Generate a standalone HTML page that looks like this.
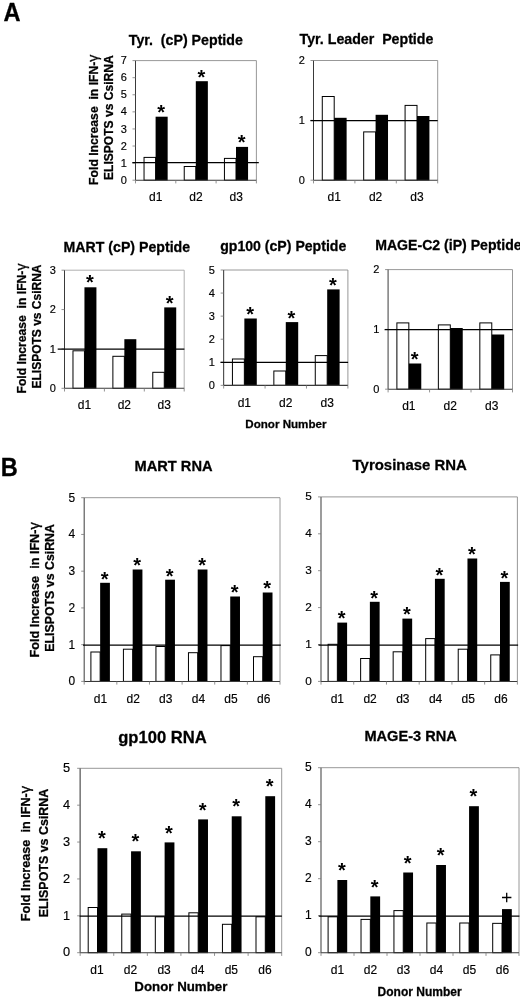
<!DOCTYPE html>
<html><head><meta charset="utf-8"><title>Figure</title>
<style>
html,body{margin:0;padding:0;background:#fff;}
body{width:520px;height:997px;overflow:hidden;font-family:"Liberation Sans", sans-serif;}
svg{display:block;will-change:transform;font-family:"Liberation Sans", sans-serif;fill:#000;}
svg text{font-family:"Liberation Sans", sans-serif;stroke:#000;stroke-width:.16px;}
svg text[font-weight=bold]{stroke-width:.27px;}
</style></head><body>
<svg width="520" height="997" viewBox="0 0 520 997">
<rect x="0" y="0" width="520" height="997" fill="#fff"/>
<path d="M135.50 60.60H256.40V180.20" fill="none" stroke="#8c8c8c" stroke-width="0.9"/>
<rect x="144.04" y="157.40" width="11.56" height="22.80" fill="#fff" stroke="#000" stroke-width="1"/>
<rect x="155.60" y="116.70" width="12.06" height="63.90" fill="#000"/>
<text x="161.13" y="119.20" text-anchor="middle" font-size="20" font-weight="bold" style="stroke-width:0">*</text>
<rect x="184.24" y="166.50" width="11.56" height="13.70" fill="#fff" stroke="#000" stroke-width="1"/>
<rect x="195.80" y="81.20" width="12.06" height="99.40" fill="#000"/>
<text x="201.33" y="83.70" text-anchor="middle" font-size="20" font-weight="bold" style="stroke-width:0">*</text>
<rect x="224.44" y="158.40" width="11.56" height="21.80" fill="#fff" stroke="#000" stroke-width="1"/>
<rect x="236.00" y="146.90" width="12.06" height="33.70" fill="#000"/>
<text x="241.53" y="149.40" text-anchor="middle" font-size="20" font-weight="bold" style="stroke-width:0">*</text>
<line x1="135.50" y1="60.60" x2="135.50" y2="180.20" stroke="#3a3a3a" stroke-width="1.05"/>
<line x1="135.50" y1="180.20" x2="256.40" y2="180.20" stroke="#3a3a3a" stroke-width="1.05"/>
<line x1="132.50" y1="180.20" x2="135.50" y2="180.20" stroke="#777" stroke-width="0.8"/>
<text x="126.80" y="183.80" text-anchor="end" font-size="11">0</text>
<line x1="132.50" y1="163.11" x2="135.50" y2="163.11" stroke="#777" stroke-width="0.8"/>
<text x="126.80" y="166.71" text-anchor="end" font-size="11">1</text>
<line x1="132.50" y1="146.03" x2="135.50" y2="146.03" stroke="#777" stroke-width="0.8"/>
<text x="126.80" y="149.63" text-anchor="end" font-size="11">2</text>
<line x1="132.50" y1="128.94" x2="135.50" y2="128.94" stroke="#777" stroke-width="0.8"/>
<text x="126.80" y="132.54" text-anchor="end" font-size="11">3</text>
<line x1="132.50" y1="111.86" x2="135.50" y2="111.86" stroke="#777" stroke-width="0.8"/>
<text x="126.80" y="115.46" text-anchor="end" font-size="11">4</text>
<line x1="132.50" y1="94.77" x2="135.50" y2="94.77" stroke="#777" stroke-width="0.8"/>
<text x="126.80" y="98.37" text-anchor="end" font-size="11">5</text>
<line x1="132.50" y1="77.69" x2="135.50" y2="77.69" stroke="#777" stroke-width="0.8"/>
<text x="126.80" y="81.29" text-anchor="end" font-size="11">6</text>
<line x1="132.50" y1="60.60" x2="135.50" y2="60.60" stroke="#777" stroke-width="0.8"/>
<text x="126.80" y="64.20" text-anchor="end" font-size="11">7</text>
<line x1="135.50" y1="180.20" x2="135.50" y2="183.40" stroke="#777" stroke-width="0.8"/>
<line x1="175.80" y1="180.20" x2="175.80" y2="183.40" stroke="#777" stroke-width="0.8"/>
<line x1="216.10" y1="180.20" x2="216.10" y2="183.40" stroke="#777" stroke-width="0.8"/>
<line x1="256.40" y1="180.20" x2="256.40" y2="183.40" stroke="#777" stroke-width="0.8"/>
<text x="155.65" y="201.20" text-anchor="middle" font-size="12">d1</text>
<text x="195.95" y="201.20" text-anchor="middle" font-size="12">d2</text>
<text x="236.25" y="201.20" text-anchor="middle" font-size="12">d3</text>
<line x1="132.30" y1="162.60" x2="258.80" y2="162.60" stroke="#000" stroke-width="1.25"/>
<text x="128.80" y="45.00" font-size="14.2" font-weight="bold">Tyr.  (cP) Peptide</text>
<path d="M313.50 60.50H437.70V180.20" fill="none" stroke="#8c8c8c" stroke-width="0.9"/>
<rect x="322.28" y="96.50" width="11.92" height="83.70" fill="#fff" stroke="#000" stroke-width="1"/>
<rect x="334.20" y="117.80" width="12.42" height="62.80" fill="#000"/>
<rect x="363.68" y="131.90" width="11.92" height="48.30" fill="#fff" stroke="#000" stroke-width="1"/>
<rect x="375.60" y="114.80" width="12.42" height="65.80" fill="#000"/>
<rect x="405.08" y="105.40" width="11.92" height="74.80" fill="#fff" stroke="#000" stroke-width="1"/>
<rect x="417.00" y="116.00" width="12.42" height="64.60" fill="#000"/>
<line x1="313.50" y1="60.50" x2="313.50" y2="180.20" stroke="#3a3a3a" stroke-width="1.05"/>
<line x1="313.50" y1="180.20" x2="437.70" y2="180.20" stroke="#3a3a3a" stroke-width="1.05"/>
<line x1="310.50" y1="180.20" x2="313.50" y2="180.20" stroke="#777" stroke-width="0.8"/>
<text x="304.80" y="183.80" text-anchor="end" font-size="11">0</text>
<line x1="310.50" y1="120.35" x2="313.50" y2="120.35" stroke="#777" stroke-width="0.8"/>
<text x="304.80" y="123.95" text-anchor="end" font-size="11">1</text>
<line x1="310.50" y1="60.50" x2="313.50" y2="60.50" stroke="#777" stroke-width="0.8"/>
<text x="304.80" y="64.10" text-anchor="end" font-size="11">2</text>
<line x1="313.50" y1="180.20" x2="313.50" y2="183.40" stroke="#777" stroke-width="0.8"/>
<line x1="354.90" y1="180.20" x2="354.90" y2="183.40" stroke="#777" stroke-width="0.8"/>
<line x1="396.30" y1="180.20" x2="396.30" y2="183.40" stroke="#777" stroke-width="0.8"/>
<line x1="437.70" y1="180.20" x2="437.70" y2="183.40" stroke="#777" stroke-width="0.8"/>
<text x="334.20" y="201.20" text-anchor="middle" font-size="12">d1</text>
<text x="375.60" y="201.20" text-anchor="middle" font-size="12">d2</text>
<text x="417.00" y="201.20" text-anchor="middle" font-size="12">d3</text>
<line x1="310.40" y1="120.50" x2="437.70" y2="120.50" stroke="#000" stroke-width="1.25"/>
<text x="299.60" y="43.80" font-size="14.2" font-weight="bold">Tyr. Leader  Peptide</text>
<path d="M64.50 270.20H184.20V388.30" fill="none" stroke="#a6a6a6" stroke-width="0.9"/>
<rect x="72.98" y="350.80" width="11.47" height="37.50" fill="#fff" stroke="#000" stroke-width="1"/>
<rect x="84.45" y="287.30" width="11.97" height="101.40" fill="#000"/>
<text x="89.94" y="289.40" text-anchor="middle" font-size="20" font-weight="bold" style="stroke-width:0">*</text>
<rect x="112.88" y="356.30" width="11.47" height="32.00" fill="#fff" stroke="#000" stroke-width="1"/>
<rect x="124.35" y="339.20" width="11.97" height="49.50" fill="#000"/>
<rect x="152.78" y="372.30" width="11.47" height="16.00" fill="#fff" stroke="#000" stroke-width="1"/>
<rect x="164.25" y="307.40" width="11.97" height="81.30" fill="#000"/>
<text x="169.74" y="309.50" text-anchor="middle" font-size="20" font-weight="bold" style="stroke-width:0">*</text>
<line x1="64.50" y1="270.20" x2="64.50" y2="388.30" stroke="#3a3a3a" stroke-width="1.05"/>
<line x1="64.50" y1="388.30" x2="184.20" y2="388.30" stroke="#3a3a3a" stroke-width="1.05"/>
<line x1="61.50" y1="388.30" x2="64.50" y2="388.30" stroke="#777" stroke-width="0.8"/>
<text x="55.80" y="391.90" text-anchor="end" font-size="11">0</text>
<line x1="61.50" y1="348.93" x2="64.50" y2="348.93" stroke="#777" stroke-width="0.8"/>
<text x="55.80" y="352.53" text-anchor="end" font-size="11">1</text>
<line x1="61.50" y1="309.57" x2="64.50" y2="309.57" stroke="#777" stroke-width="0.8"/>
<text x="55.80" y="313.17" text-anchor="end" font-size="11">2</text>
<line x1="61.50" y1="270.20" x2="64.50" y2="270.20" stroke="#777" stroke-width="0.8"/>
<text x="55.80" y="273.80" text-anchor="end" font-size="11">3</text>
<line x1="64.50" y1="388.30" x2="64.50" y2="391.50" stroke="#777" stroke-width="0.8"/>
<line x1="104.40" y1="388.30" x2="104.40" y2="391.50" stroke="#777" stroke-width="0.8"/>
<line x1="144.30" y1="388.30" x2="144.30" y2="391.50" stroke="#777" stroke-width="0.8"/>
<line x1="184.20" y1="388.30" x2="184.20" y2="391.50" stroke="#777" stroke-width="0.8"/>
<text x="84.45" y="409.20" text-anchor="middle" font-size="12">d1</text>
<text x="124.35" y="409.20" text-anchor="middle" font-size="12">d2</text>
<text x="164.25" y="409.20" text-anchor="middle" font-size="12">d3</text>
<line x1="57.70" y1="349.00" x2="184.40" y2="349.00" stroke="#000" stroke-width="1.25"/>
<text x="63.60" y="251.70" font-size="14.15" font-weight="bold">MART (cP) Peptide</text>
<path d="M223.65 270.00H347.90V385.35" fill="none" stroke="#8c8c8c" stroke-width="0.9"/>
<rect x="232.43" y="359.00" width="11.92" height="26.35" fill="#fff" stroke="#000" stroke-width="1"/>
<rect x="244.36" y="318.50" width="12.42" height="67.25" fill="#000"/>
<text x="250.07" y="321.10" text-anchor="middle" font-size="20" font-weight="bold" style="stroke-width:0">*</text>
<rect x="273.85" y="371.00" width="11.92" height="14.35" fill="#fff" stroke="#000" stroke-width="1"/>
<rect x="285.78" y="322.10" width="12.42" height="63.65" fill="#000"/>
<text x="291.49" y="324.70" text-anchor="middle" font-size="20" font-weight="bold" style="stroke-width:0">*</text>
<rect x="315.27" y="355.60" width="11.92" height="29.75" fill="#fff" stroke="#000" stroke-width="1"/>
<rect x="327.19" y="289.40" width="12.42" height="96.35" fill="#000"/>
<text x="332.90" y="292.00" text-anchor="middle" font-size="20" font-weight="bold" style="stroke-width:0">*</text>
<line x1="223.65" y1="270.00" x2="223.65" y2="385.35" stroke="#3a3a3a" stroke-width="1.05"/>
<line x1="223.65" y1="385.35" x2="347.90" y2="385.35" stroke="#3a3a3a" stroke-width="1.05"/>
<line x1="220.65" y1="385.35" x2="223.65" y2="385.35" stroke="#777" stroke-width="0.8"/>
<text x="214.95" y="388.95" text-anchor="end" font-size="11">0</text>
<line x1="220.65" y1="362.28" x2="223.65" y2="362.28" stroke="#777" stroke-width="0.8"/>
<text x="214.95" y="365.88" text-anchor="end" font-size="11">1</text>
<line x1="220.65" y1="339.21" x2="223.65" y2="339.21" stroke="#777" stroke-width="0.8"/>
<text x="214.95" y="342.81" text-anchor="end" font-size="11">2</text>
<line x1="220.65" y1="316.14" x2="223.65" y2="316.14" stroke="#777" stroke-width="0.8"/>
<text x="214.95" y="319.74" text-anchor="end" font-size="11">3</text>
<line x1="220.65" y1="293.07" x2="223.65" y2="293.07" stroke="#777" stroke-width="0.8"/>
<text x="214.95" y="296.67" text-anchor="end" font-size="11">4</text>
<line x1="220.65" y1="270.00" x2="223.65" y2="270.00" stroke="#777" stroke-width="0.8"/>
<text x="214.95" y="273.60" text-anchor="end" font-size="11">5</text>
<line x1="223.65" y1="385.35" x2="223.65" y2="388.55" stroke="#777" stroke-width="0.8"/>
<line x1="265.07" y1="385.35" x2="265.07" y2="388.55" stroke="#777" stroke-width="0.8"/>
<line x1="306.48" y1="385.35" x2="306.48" y2="388.55" stroke="#777" stroke-width="0.8"/>
<line x1="347.90" y1="385.35" x2="347.90" y2="388.55" stroke="#777" stroke-width="0.8"/>
<text x="244.36" y="407.00" text-anchor="middle" font-size="12">d1</text>
<text x="285.77" y="407.00" text-anchor="middle" font-size="12">d2</text>
<text x="327.19" y="407.00" text-anchor="middle" font-size="12">d3</text>
<line x1="220.50" y1="362.40" x2="348.10" y2="362.40" stroke="#000" stroke-width="1.25"/>
<text x="220.20" y="250.60" font-size="14.1" font-weight="bold">gp100 (cP) Peptide</text>
<path d="M388.10 269.60H512.50V389.20" fill="none" stroke="#8c8c8c" stroke-width="0.9"/>
<rect x="396.89" y="322.90" width="11.94" height="66.30" fill="#fff" stroke="#000" stroke-width="1"/>
<rect x="408.83" y="363.50" width="12.44" height="26.10" fill="#000"/>
<text x="414.55" y="366.10" text-anchor="middle" font-size="20" font-weight="bold" style="stroke-width:0">*</text>
<rect x="438.36" y="324.90" width="11.94" height="64.30" fill="#fff" stroke="#000" stroke-width="1"/>
<rect x="450.30" y="328.00" width="12.44" height="61.60" fill="#000"/>
<rect x="479.83" y="322.90" width="11.94" height="66.30" fill="#fff" stroke="#000" stroke-width="1"/>
<rect x="491.77" y="334.50" width="12.44" height="55.10" fill="#000"/>
<line x1="388.10" y1="269.60" x2="388.10" y2="389.20" stroke="#686868" stroke-width="1.3"/>
<line x1="388.10" y1="389.20" x2="512.50" y2="389.20" stroke="#3a3a3a" stroke-width="1.05"/>
<line x1="385.10" y1="389.20" x2="388.10" y2="389.20" stroke="#777" stroke-width="0.8"/>
<text x="379.40" y="392.80" text-anchor="end" font-size="11">0</text>
<line x1="385.10" y1="329.40" x2="388.10" y2="329.40" stroke="#777" stroke-width="0.8"/>
<text x="379.40" y="333.00" text-anchor="end" font-size="11">1</text>
<line x1="385.10" y1="269.60" x2="388.10" y2="269.60" stroke="#777" stroke-width="0.8"/>
<text x="379.40" y="273.20" text-anchor="end" font-size="11">2</text>
<line x1="388.10" y1="389.20" x2="388.10" y2="392.40" stroke="#777" stroke-width="0.8"/>
<line x1="429.57" y1="389.20" x2="429.57" y2="392.40" stroke="#777" stroke-width="0.8"/>
<line x1="471.03" y1="389.20" x2="471.03" y2="392.40" stroke="#777" stroke-width="0.8"/>
<line x1="512.50" y1="389.20" x2="512.50" y2="392.40" stroke="#777" stroke-width="0.8"/>
<text x="408.83" y="410.20" text-anchor="middle" font-size="12">d1</text>
<text x="450.30" y="410.20" text-anchor="middle" font-size="12">d2</text>
<text x="491.77" y="410.20" text-anchor="middle" font-size="12">d3</text>
<line x1="384.60" y1="329.50" x2="512.70" y2="329.50" stroke="#000" stroke-width="1.25"/>
<text x="375.20" y="249.60" font-size="14.1" font-weight="bold">MAGE-C2 (iP) Peptide</text>
<path d="M84.20 497.70H280.00V681.40" fill="none" stroke="#8c8c8c" stroke-width="0.9"/>
<rect x="90.90" y="652.00" width="9.25" height="29.40" fill="#fff" stroke="#000" stroke-width="1"/>
<rect x="100.15" y="582.80" width="9.75" height="99.00" fill="#000"/>
<text x="104.53" y="585.60" text-anchor="middle" font-size="20" font-weight="bold" style="stroke-width:0">*</text>
<rect x="123.42" y="649.20" width="9.25" height="32.20" fill="#fff" stroke="#000" stroke-width="1"/>
<rect x="132.67" y="569.50" width="9.75" height="112.30" fill="#000"/>
<text x="137.05" y="572.30" text-anchor="middle" font-size="20" font-weight="bold" style="stroke-width:0">*</text>
<rect x="155.94" y="646.50" width="9.25" height="34.90" fill="#fff" stroke="#000" stroke-width="1"/>
<rect x="165.19" y="579.70" width="9.75" height="102.10" fill="#000"/>
<text x="169.56" y="582.50" text-anchor="middle" font-size="20" font-weight="bold" style="stroke-width:0">*</text>
<rect x="188.46" y="652.70" width="9.25" height="28.70" fill="#fff" stroke="#000" stroke-width="1"/>
<rect x="197.71" y="569.50" width="9.75" height="112.30" fill="#000"/>
<text x="202.08" y="572.30" text-anchor="middle" font-size="20" font-weight="bold" style="stroke-width:0">*</text>
<rect x="220.98" y="645.60" width="9.25" height="35.80" fill="#fff" stroke="#000" stroke-width="1"/>
<rect x="230.23" y="596.50" width="9.75" height="85.30" fill="#000"/>
<text x="234.61" y="599.30" text-anchor="middle" font-size="20" font-weight="bold" style="stroke-width:0">*</text>
<rect x="253.50" y="656.70" width="9.25" height="24.70" fill="#fff" stroke="#000" stroke-width="1"/>
<rect x="262.75" y="592.50" width="9.75" height="89.30" fill="#000"/>
<text x="267.12" y="595.30" text-anchor="middle" font-size="20" font-weight="bold" style="stroke-width:0">*</text>
<line x1="84.20" y1="497.70" x2="84.20" y2="681.40" stroke="#555" stroke-width="1.15"/>
<line x1="84.20" y1="681.40" x2="280.00" y2="681.40" stroke="#3a3a3a" stroke-width="1.05"/>
<line x1="81.20" y1="681.40" x2="84.20" y2="681.40" stroke="#777" stroke-width="0.8"/>
<text x="75.10" y="685.30" text-anchor="end" font-size="11.9">0</text>
<line x1="81.20" y1="644.66" x2="84.20" y2="644.66" stroke="#777" stroke-width="0.8"/>
<text x="75.10" y="648.56" text-anchor="end" font-size="11.9">1</text>
<line x1="81.20" y1="607.92" x2="84.20" y2="607.92" stroke="#777" stroke-width="0.8"/>
<text x="75.10" y="611.82" text-anchor="end" font-size="11.9">2</text>
<line x1="81.20" y1="571.18" x2="84.20" y2="571.18" stroke="#777" stroke-width="0.8"/>
<text x="75.10" y="575.08" text-anchor="end" font-size="11.9">3</text>
<line x1="81.20" y1="534.44" x2="84.20" y2="534.44" stroke="#777" stroke-width="0.8"/>
<text x="75.10" y="538.34" text-anchor="end" font-size="11.9">4</text>
<line x1="81.20" y1="497.70" x2="84.20" y2="497.70" stroke="#777" stroke-width="0.8"/>
<text x="75.10" y="501.60" text-anchor="end" font-size="11.9">5</text>
<line x1="84.20" y1="681.40" x2="84.20" y2="684.60" stroke="#777" stroke-width="0.8"/>
<line x1="116.83" y1="681.40" x2="116.83" y2="684.60" stroke="#777" stroke-width="0.8"/>
<line x1="149.47" y1="681.40" x2="149.47" y2="684.60" stroke="#777" stroke-width="0.8"/>
<line x1="182.10" y1="681.40" x2="182.10" y2="684.60" stroke="#777" stroke-width="0.8"/>
<line x1="214.73" y1="681.40" x2="214.73" y2="684.60" stroke="#777" stroke-width="0.8"/>
<line x1="247.37" y1="681.40" x2="247.37" y2="684.60" stroke="#777" stroke-width="0.8"/>
<line x1="280.00" y1="681.40" x2="280.00" y2="684.60" stroke="#777" stroke-width="0.8"/>
<text x="100.52" y="703.30" text-anchor="middle" font-size="12">d1</text>
<text x="133.15" y="703.30" text-anchor="middle" font-size="12">d2</text>
<text x="165.78" y="703.30" text-anchor="middle" font-size="12">d3</text>
<text x="198.42" y="703.30" text-anchor="middle" font-size="12">d4</text>
<text x="231.05" y="703.30" text-anchor="middle" font-size="12">d5</text>
<text x="263.68" y="703.30" text-anchor="middle" font-size="12">d6</text>
<line x1="83.00" y1="645.05" x2="280.80" y2="645.05" stroke="#000" stroke-width="1.25"/>
<text x="134.50" y="470.90" font-size="14.65" font-weight="bold">MART RNA</text>
<path d="M321.00 496.90H517.40V681.40" fill="none" stroke="#8c8c8c" stroke-width="0.9"/>
<rect x="328.10" y="644.30" width="9.25" height="37.10" fill="#fff" stroke="#000" stroke-width="1"/>
<rect x="337.35" y="622.60" width="9.75" height="59.20" fill="#000"/>
<text x="341.73" y="625.40" text-anchor="middle" font-size="20" font-weight="bold" style="stroke-width:0">*</text>
<rect x="360.63" y="658.50" width="9.25" height="22.90" fill="#fff" stroke="#000" stroke-width="1"/>
<rect x="369.88" y="601.80" width="9.75" height="80.00" fill="#000"/>
<text x="374.25" y="604.60" text-anchor="middle" font-size="20" font-weight="bold" style="stroke-width:0">*</text>
<rect x="393.16" y="651.80" width="9.25" height="29.60" fill="#fff" stroke="#000" stroke-width="1"/>
<rect x="402.41" y="618.60" width="9.75" height="63.20" fill="#000"/>
<text x="406.79" y="621.40" text-anchor="middle" font-size="20" font-weight="bold" style="stroke-width:0">*</text>
<rect x="425.69" y="638.60" width="9.25" height="42.80" fill="#fff" stroke="#000" stroke-width="1"/>
<rect x="434.94" y="578.80" width="9.75" height="103.00" fill="#000"/>
<text x="439.32" y="581.60" text-anchor="middle" font-size="20" font-weight="bold" style="stroke-width:0">*</text>
<rect x="458.22" y="649.20" width="9.25" height="32.20" fill="#fff" stroke="#000" stroke-width="1"/>
<rect x="467.47" y="558.50" width="9.75" height="123.30" fill="#000"/>
<text x="471.85" y="561.30" text-anchor="middle" font-size="20" font-weight="bold" style="stroke-width:0">*</text>
<rect x="490.75" y="654.90" width="9.25" height="26.50" fill="#fff" stroke="#000" stroke-width="1"/>
<rect x="500.00" y="581.90" width="9.75" height="99.90" fill="#000"/>
<text x="504.38" y="584.70" text-anchor="middle" font-size="20" font-weight="bold" style="stroke-width:0">*</text>
<line x1="321.00" y1="496.90" x2="321.00" y2="681.40" stroke="#686868" stroke-width="1.3"/>
<line x1="321.00" y1="681.40" x2="517.40" y2="681.40" stroke="#3a3a3a" stroke-width="1.05"/>
<line x1="318.00" y1="681.40" x2="321.00" y2="681.40" stroke="#777" stroke-width="0.8"/>
<text x="311.90" y="684.80" text-anchor="end" font-size="11.8">0</text>
<line x1="318.00" y1="644.50" x2="321.00" y2="644.50" stroke="#777" stroke-width="0.8"/>
<text x="311.90" y="647.90" text-anchor="end" font-size="11.8">1</text>
<line x1="318.00" y1="607.60" x2="321.00" y2="607.60" stroke="#777" stroke-width="0.8"/>
<text x="311.90" y="611.00" text-anchor="end" font-size="11.8">2</text>
<line x1="318.00" y1="570.70" x2="321.00" y2="570.70" stroke="#777" stroke-width="0.8"/>
<text x="311.90" y="574.10" text-anchor="end" font-size="11.8">3</text>
<line x1="318.00" y1="533.80" x2="321.00" y2="533.80" stroke="#777" stroke-width="0.8"/>
<text x="311.90" y="537.20" text-anchor="end" font-size="11.8">4</text>
<line x1="318.00" y1="496.90" x2="321.00" y2="496.90" stroke="#777" stroke-width="0.8"/>
<text x="311.90" y="500.30" text-anchor="end" font-size="11.8">5</text>
<line x1="321.00" y1="681.40" x2="321.00" y2="684.60" stroke="#777" stroke-width="0.8"/>
<line x1="353.73" y1="681.40" x2="353.73" y2="684.60" stroke="#777" stroke-width="0.8"/>
<line x1="386.47" y1="681.40" x2="386.47" y2="684.60" stroke="#777" stroke-width="0.8"/>
<line x1="419.20" y1="681.40" x2="419.20" y2="684.60" stroke="#777" stroke-width="0.8"/>
<line x1="451.93" y1="681.40" x2="451.93" y2="684.60" stroke="#777" stroke-width="0.8"/>
<line x1="484.67" y1="681.40" x2="484.67" y2="684.60" stroke="#777" stroke-width="0.8"/>
<line x1="517.40" y1="681.40" x2="517.40" y2="684.60" stroke="#777" stroke-width="0.8"/>
<text x="337.37" y="703.30" text-anchor="middle" font-size="12">d1</text>
<text x="370.10" y="703.30" text-anchor="middle" font-size="12">d2</text>
<text x="402.83" y="703.30" text-anchor="middle" font-size="12">d3</text>
<text x="435.57" y="703.30" text-anchor="middle" font-size="12">d4</text>
<text x="468.30" y="703.30" text-anchor="middle" font-size="12">d5</text>
<text x="501.03" y="703.30" text-anchor="middle" font-size="12">d6</text>
<line x1="318.50" y1="645.10" x2="518.10" y2="645.10" stroke="#000" stroke-width="1.25"/>
<text x="352.60" y="470.40" font-size="14.95" font-weight="bold">Tyrosinase RNA</text>
<path d="M80.15 768.30H281.70V952.70" fill="none" stroke="#8c8c8c" stroke-width="0.9"/>
<rect x="88.20" y="907.50" width="9.30" height="45.20" fill="#fff" stroke="#000" stroke-width="1"/>
<rect x="97.50" y="848.20" width="9.80" height="104.90" fill="#000"/>
<text x="101.90" y="845.30" text-anchor="middle" font-size="20" font-weight="bold" style="stroke-width:0">*</text>
<rect x="121.76" y="914.10" width="9.30" height="38.60" fill="#fff" stroke="#000" stroke-width="1"/>
<rect x="131.06" y="851.30" width="9.80" height="101.80" fill="#000"/>
<text x="135.46" y="848.40" text-anchor="middle" font-size="20" font-weight="bold" style="stroke-width:0">*</text>
<rect x="155.32" y="916.80" width="9.30" height="35.90" fill="#fff" stroke="#000" stroke-width="1"/>
<rect x="164.62" y="842.40" width="9.80" height="110.70" fill="#000"/>
<text x="169.02" y="839.50" text-anchor="middle" font-size="20" font-weight="bold" style="stroke-width:0">*</text>
<rect x="188.88" y="912.80" width="9.30" height="39.90" fill="#fff" stroke="#000" stroke-width="1"/>
<rect x="198.18" y="819.40" width="9.80" height="133.70" fill="#000"/>
<text x="202.58" y="816.50" text-anchor="middle" font-size="20" font-weight="bold" style="stroke-width:0">*</text>
<rect x="222.44" y="924.30" width="9.30" height="28.40" fill="#fff" stroke="#000" stroke-width="1"/>
<rect x="231.74" y="816.30" width="9.80" height="136.80" fill="#000"/>
<text x="236.14" y="813.40" text-anchor="middle" font-size="20" font-weight="bold" style="stroke-width:0">*</text>
<rect x="256.00" y="916.80" width="9.30" height="35.90" fill="#fff" stroke="#000" stroke-width="1"/>
<rect x="265.30" y="796.20" width="9.80" height="156.90" fill="#000"/>
<text x="269.70" y="793.30" text-anchor="middle" font-size="20" font-weight="bold" style="stroke-width:0">*</text>
<line x1="80.15" y1="768.30" x2="80.15" y2="952.70" stroke="#686868" stroke-width="1.4"/>
<line x1="80.15" y1="952.70" x2="281.70" y2="952.70" stroke="#3a3a3a" stroke-width="1.05"/>
<line x1="77.15" y1="952.70" x2="80.15" y2="952.70" stroke="#777" stroke-width="0.8"/>
<text x="70.15" y="956.40" text-anchor="end" font-size="12.8">0</text>
<line x1="77.15" y1="915.82" x2="80.15" y2="915.82" stroke="#777" stroke-width="0.8"/>
<text x="70.15" y="919.52" text-anchor="end" font-size="12.8">1</text>
<line x1="77.15" y1="878.94" x2="80.15" y2="878.94" stroke="#777" stroke-width="0.8"/>
<text x="70.15" y="882.64" text-anchor="end" font-size="12.8">2</text>
<line x1="77.15" y1="842.06" x2="80.15" y2="842.06" stroke="#777" stroke-width="0.8"/>
<text x="70.15" y="845.76" text-anchor="end" font-size="12.8">3</text>
<line x1="77.15" y1="805.18" x2="80.15" y2="805.18" stroke="#777" stroke-width="0.8"/>
<text x="70.15" y="808.88" text-anchor="end" font-size="12.8">4</text>
<line x1="77.15" y1="768.30" x2="80.15" y2="768.30" stroke="#777" stroke-width="0.8"/>
<text x="70.15" y="772.00" text-anchor="end" font-size="12.8">5</text>
<line x1="80.15" y1="952.70" x2="80.15" y2="955.90" stroke="#777" stroke-width="0.8"/>
<line x1="113.74" y1="952.70" x2="113.74" y2="955.90" stroke="#777" stroke-width="0.8"/>
<line x1="147.33" y1="952.70" x2="147.33" y2="955.90" stroke="#777" stroke-width="0.8"/>
<line x1="180.92" y1="952.70" x2="180.92" y2="955.90" stroke="#777" stroke-width="0.8"/>
<line x1="214.52" y1="952.70" x2="214.52" y2="955.90" stroke="#777" stroke-width="0.8"/>
<line x1="248.11" y1="952.70" x2="248.11" y2="955.90" stroke="#777" stroke-width="0.8"/>
<line x1="281.70" y1="952.70" x2="281.70" y2="955.90" stroke="#777" stroke-width="0.8"/>
<text x="96.95" y="974.20" text-anchor="middle" font-size="12">d1</text>
<text x="130.54" y="974.20" text-anchor="middle" font-size="12">d2</text>
<text x="164.13" y="974.20" text-anchor="middle" font-size="12">d3</text>
<text x="197.72" y="974.20" text-anchor="middle" font-size="12">d4</text>
<text x="231.31" y="974.20" text-anchor="middle" font-size="12">d5</text>
<text x="264.90" y="974.20" text-anchor="middle" font-size="12">d6</text>
<line x1="79.60" y1="916.10" x2="281.90" y2="916.10" stroke="#000" stroke-width="1.25"/>
<text x="118.20" y="743.00" font-size="16.6" font-weight="bold">gp100 RNA</text>
<path d="M321.00 767.70H519.00V952.70" fill="none" stroke="#8c8c8c" stroke-width="0.9"/>
<rect x="328.10" y="916.80" width="9.30" height="35.90" fill="#fff" stroke="#000" stroke-width="1"/>
<rect x="337.40" y="880.00" width="9.80" height="73.10" fill="#000"/>
<text x="341.80" y="877.10" text-anchor="middle" font-size="20" font-weight="bold" style="stroke-width:0">*</text>
<rect x="361.02" y="919.40" width="9.30" height="33.30" fill="#fff" stroke="#000" stroke-width="1"/>
<rect x="370.32" y="896.40" width="9.80" height="56.70" fill="#000"/>
<text x="374.72" y="893.50" text-anchor="middle" font-size="20" font-weight="bold" style="stroke-width:0">*</text>
<rect x="393.94" y="910.60" width="9.30" height="42.10" fill="#fff" stroke="#000" stroke-width="1"/>
<rect x="403.24" y="872.50" width="9.80" height="80.60" fill="#000"/>
<text x="407.64" y="869.60" text-anchor="middle" font-size="20" font-weight="bold" style="stroke-width:0">*</text>
<rect x="426.86" y="923.00" width="9.30" height="29.70" fill="#fff" stroke="#000" stroke-width="1"/>
<rect x="436.16" y="865.00" width="9.80" height="88.10" fill="#000"/>
<text x="440.56" y="862.10" text-anchor="middle" font-size="20" font-weight="bold" style="stroke-width:0">*</text>
<rect x="459.78" y="923.00" width="9.30" height="29.70" fill="#fff" stroke="#000" stroke-width="1"/>
<rect x="469.08" y="806.20" width="9.80" height="146.90" fill="#000"/>
<text x="473.48" y="803.30" text-anchor="middle" font-size="20" font-weight="bold" style="stroke-width:0">*</text>
<rect x="492.70" y="923.35" width="9.30" height="29.35" fill="#fff" stroke="#000" stroke-width="1"/>
<rect x="502.00" y="909.10" width="9.80" height="44.00" fill="#000"/>
<path d="M502.00 897.50h9.4M506.70 892.80v9.4" stroke="#000" stroke-width="1.3" fill="none"/>
<line x1="321.00" y1="767.70" x2="321.00" y2="952.70" stroke="#686868" stroke-width="1.3"/>
<line x1="321.00" y1="952.70" x2="519.00" y2="952.70" stroke="#3a3a3a" stroke-width="1.05"/>
<line x1="318.00" y1="952.70" x2="321.00" y2="952.70" stroke="#777" stroke-width="0.8"/>
<text x="311.80" y="956.20" text-anchor="end" font-size="12">0</text>
<line x1="318.00" y1="915.70" x2="321.00" y2="915.70" stroke="#777" stroke-width="0.8"/>
<text x="311.80" y="919.20" text-anchor="end" font-size="12">1</text>
<line x1="318.00" y1="878.70" x2="321.00" y2="878.70" stroke="#777" stroke-width="0.8"/>
<text x="311.80" y="882.20" text-anchor="end" font-size="12">2</text>
<line x1="318.00" y1="841.70" x2="321.00" y2="841.70" stroke="#777" stroke-width="0.8"/>
<text x="311.80" y="845.20" text-anchor="end" font-size="12">3</text>
<line x1="318.00" y1="804.70" x2="321.00" y2="804.70" stroke="#777" stroke-width="0.8"/>
<text x="311.80" y="808.20" text-anchor="end" font-size="12">4</text>
<line x1="318.00" y1="767.70" x2="321.00" y2="767.70" stroke="#777" stroke-width="0.8"/>
<text x="311.80" y="771.20" text-anchor="end" font-size="12">5</text>
<line x1="321.00" y1="952.70" x2="321.00" y2="955.90" stroke="#777" stroke-width="0.8"/>
<line x1="354.00" y1="952.70" x2="354.00" y2="955.90" stroke="#777" stroke-width="0.8"/>
<line x1="387.00" y1="952.70" x2="387.00" y2="955.90" stroke="#777" stroke-width="0.8"/>
<line x1="420.00" y1="952.70" x2="420.00" y2="955.90" stroke="#777" stroke-width="0.8"/>
<line x1="453.00" y1="952.70" x2="453.00" y2="955.90" stroke="#777" stroke-width="0.8"/>
<line x1="486.00" y1="952.70" x2="486.00" y2="955.90" stroke="#777" stroke-width="0.8"/>
<line x1="519.00" y1="952.70" x2="519.00" y2="955.90" stroke="#777" stroke-width="0.8"/>
<text x="337.50" y="974.00" text-anchor="middle" font-size="12">d1</text>
<text x="370.50" y="974.00" text-anchor="middle" font-size="12">d2</text>
<text x="403.50" y="974.00" text-anchor="middle" font-size="12">d3</text>
<text x="436.50" y="974.00" text-anchor="middle" font-size="12">d4</text>
<text x="469.50" y="974.00" text-anchor="middle" font-size="12">d5</text>
<text x="502.50" y="974.00" text-anchor="middle" font-size="12">d6</text>
<line x1="318.80" y1="916.05" x2="519.40" y2="916.05" stroke="#000" stroke-width="1.25"/>
<text x="364.40" y="740.90" font-size="14.6" font-weight="bold">MAGE-3 RNA</text>
<text transform="translate(3.4,20.6) scale(0.93,1)" font-size="25.4" font-weight="bold">A</text>
<text transform="translate(0.7,476.1) scale(0.93,1)" font-size="25.4" font-weight="bold">B</text>
<text transform="translate(97.8,119.75) rotate(-90)" text-anchor="middle" font-size="12.2" font-weight="bold" textLength="130.3" lengthAdjust="spacingAndGlyphs">Fold Increase  in IFN-<tspan font-size="14.2" font-weight="normal" style="stroke-width:.3px">γ</tspan></text>
<text transform="translate(112.8,117.7) rotate(-90)" text-anchor="middle" font-size="12.2" font-weight="bold" textLength="124.6" lengthAdjust="spacingAndGlyphs">ELISPOTS vs CsiRNA</text>
<text transform="translate(26.2,328.5) rotate(-90)" text-anchor="middle" font-size="12.1" font-weight="bold" textLength="130" lengthAdjust="spacingAndGlyphs">Fold Increase  in IFN-<tspan font-size="14.1" font-weight="normal" style="stroke-width:.3px">γ</tspan></text>
<text transform="translate(41.1,326.5) rotate(-90)" text-anchor="middle" font-size="12.1" font-weight="bold" textLength="124" lengthAdjust="spacingAndGlyphs">ELISPOTS vs CsiRNA</text>
<text transform="translate(38.8,589.8) rotate(-90)" text-anchor="middle" font-size="12.4" font-weight="bold" textLength="135.2" lengthAdjust="spacingAndGlyphs">Fold Increase  in IFN-<tspan font-size="14.4" font-weight="normal" style="stroke-width:.3px">γ</tspan></text>
<text transform="translate(54.0,587.9) rotate(-90)" text-anchor="middle" font-size="12.4" font-weight="bold" textLength="127.7" lengthAdjust="spacingAndGlyphs">ELISPOTS vs CsiRNA</text>
<text transform="translate(30,853.6) rotate(-90)" text-anchor="middle" font-size="13.2" font-weight="bold" textLength="135.3" lengthAdjust="spacingAndGlyphs">Fold Increase  in IFN-<tspan font-size="15.2" font-weight="normal" style="stroke-width:.3px">γ</tspan></text>
<text transform="translate(47.5,853) rotate(-90)" text-anchor="middle" font-size="13.2" font-weight="bold" textLength="128.6" lengthAdjust="spacingAndGlyphs">ELISPOTS vs CsiRNA</text>
<text x="245.3" y="428.4" font-size="11.6" font-weight="bold">Donor Number</text>
<text x="134.3" y="990.7" font-size="13.3" font-weight="bold">Donor Number</text>
<text x="377.6" y="995.6" font-size="12" font-weight="bold">Donor Number</text>
</svg>
</body></html>
